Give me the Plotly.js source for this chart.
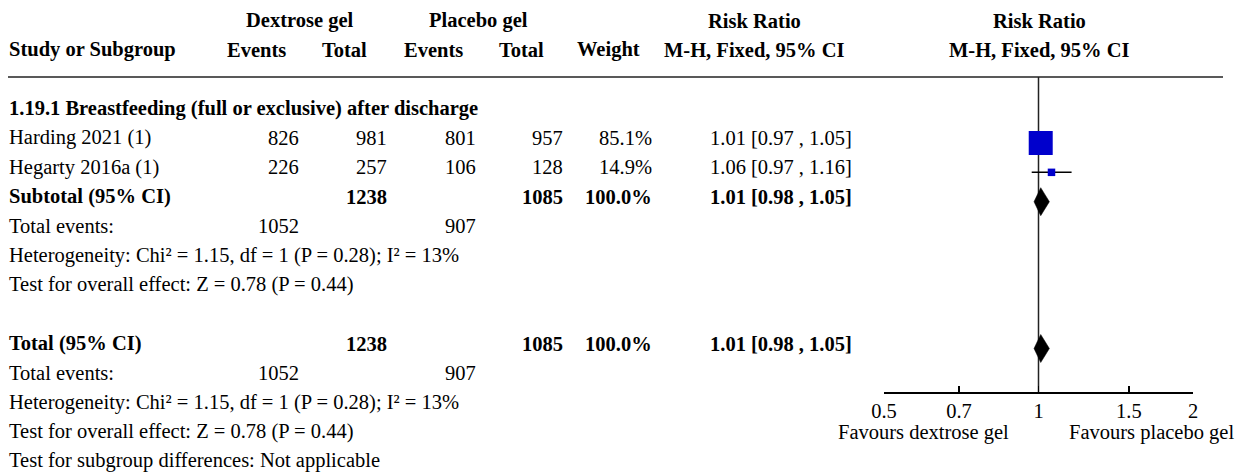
<!DOCTYPE html>
<html>
<head>
<meta charset="utf-8">
<script src="https://cdn.plot.ly/plotly-3.0.1.min.js"></script>
<style>html,body{margin:0;padding:0;background:#fff;}#chart{width:1242px;height:474px;}</style>
</head>
<body>
<div id="chart"></div>
<script>
// ---------------- DATA ----------------
const subgroupTitle = "1.19.1 Breastfeeding (full or exclusive) after discharge";
const studies = ["Harding 2021 (1)", "Hegarty 2016a (1)"];
const dexEvents = [826, 226];
const dexTotal = [981, 257];
const plaEvents = [801, 106];
const plaTotal = [957, 128];
const weights = [85.1, 14.9];
const rr = [1.01, 1.06];
const rrLow = [0.97, 0.97];
const rrHigh = [1.05, 1.16];

const subtotalLabel = "Subtotal (95% CI)";
const subDexTotal = 1238, subPlaTotal = 1085, subWeight = 100.0;
const subRR = 1.01, subLow = 0.98, subHigh = 1.05;
const subDexEvents = 1052, subPlaEvents = 907;
const subHet = "Heterogeneity: Chi² = 1.15, df = 1 (P = 0.28); I² = 13%";
const subTest = "Test for overall effect: Z = 0.78 (P = 0.44)";

const totalLabel = "Total (95% CI)";
const totDexTotal = 1238, totPlaTotal = 1085, totWeight = 100.0;
const totRR = 1.01, totLow = 0.98, totHigh = 1.05;
const totDexEvents = 1052, totPlaEvents = 907;
const totHet = "Heterogeneity: Chi² = 1.15, df = 1 (P = 0.28); I² = 13%";
const totTest = "Test for overall effect: Z = 0.78 (P = 0.44)";
const subgroupDiff = "Test for subgroup differences: Not applicable";

const tickVals = [0.5, 0.7, 1, 1.5, 2];
const tickLabels = ["0.5", "0.7", "1", "1.5", "2"];
const favLeft = "Favours dextrose gel";
const favRight = "Favours placebo gel";

// ---------------- LAYOUT HELPERS ----------------
const W = 1242, H = 474;
const FONT = "Liberation Serif, Times New Roman, serif";
const FS = 20.5;
const px = v => v / W;
const fmtCI = (e, l, h) => e.toFixed(2) + " [" + l.toFixed(2) + " , " + h.toFixed(2) + "]";

// column positions (pixels) and anchors
const COL = {
  study: {x: 8, a: "left"},
  dexEv: {x: 300, a: "right"},
  dexTot: {x: 388, a: "right"},
  plaEv: {x: 477, a: "right"},
  plaTot: {x: 564, a: "right"},
  weight: {x: 653, a: "right"},
  ci: {x: 853, a: "right"}
};

const ann = [];
function txt(text, col, row, bold, anchorOverride, xOverride) {
  ann.push({
    text: bold ? "<b>" + text + "</b>" : text,
    xref: "paper", yref: "y",
    x: px(xOverride !== undefined ? xOverride : col.x), y: row,
    xanchor: anchorOverride || col.a, yanchor: "middle",
    yshift: 5, showarrow: false, borderpad: 0,
    font: {family: FONT, size: FS, color: "#000"}
  });
}

// headers
txt("Dextrose gel", null, -1, true, "center", 300);
txt("Placebo gel", null, -1, true, "center", 478);
txt("Risk Ratio", null, -1, true, "center", 754);
txt("Risk Ratio", null, -1, true, "center", 1039);
txt("Study or Subgroup", COL.study, 0, true);
txt("Events", null, 0, true, "center", 256);
txt("Total", null, 0, true, "center", 344);
txt("Events", null, 0, true, "center", 433);
txt("Total", null, 0, true, "center", 521);
txt("Weight", null, 0, true, "right", 641);
txt("M-H, Fixed, 95% CI", null, 0, true, "center", 754);
txt("M-H, Fixed, 95% CI", null, 0, true, "center", 1039);

// subgroup
txt(subgroupTitle, COL.study, 2, true);
const studyRows = studies.map((s, i) => 3 + i);
studies.forEach((s, i) => {
  const r = studyRows[i];
  txt(s, COL.study, r, false);
  txt(String(dexEvents[i]), COL.dexEv, r, false);
  txt(String(dexTotal[i]), COL.dexTot, r, false);
  txt(String(plaEvents[i]), COL.plaEv, r, false);
  txt(String(plaTotal[i]), COL.plaTot, r, false);
  txt(weights[i].toFixed(1) + "%", COL.weight, r, false);
  txt(fmtCI(rr[i], rrLow[i], rrHigh[i]), COL.ci, r, false);
});
const subRow = 5;
txt(subtotalLabel, COL.study, subRow, true);
txt(String(subDexTotal), COL.dexTot, subRow, true);
txt(String(subPlaTotal), COL.plaTot, subRow, true);
txt(subWeight.toFixed(1) + "%", COL.weight, subRow, true);
txt(fmtCI(subRR, subLow, subHigh), COL.ci, subRow, true);
txt("Total events:", COL.study, 6, false);
txt(String(subDexEvents), COL.dexEv, 6, false);
txt(String(subPlaEvents), COL.plaEv, 6, false);
txt(subHet, COL.study, 7, false);
txt(subTest, COL.study, 8, false);

const totRow = 10;
txt(totalLabel, COL.study, totRow, true);
txt(String(totDexTotal), COL.dexTot, totRow, true);
txt(String(totPlaTotal), COL.plaTot, totRow, true);
txt(totWeight.toFixed(1) + "%", COL.weight, totRow, true);
txt(fmtCI(totRR, totLow, totHigh), COL.ci, totRow, true);
txt("Total events:", COL.study, 11, false);
txt(String(totDexEvents), COL.dexEv, 11, false);
txt(String(totPlaEvents), COL.plaEv, 11, false);
txt(totHet, COL.study, 12, false);
txt(totTest, COL.study, 13, false);
txt(subgroupDiff, COL.study, 14, false);

// favours labels (below axis)
const axisY = 1 - 392 / H;
ann.push({text: favLeft, xref: "paper", yref: "paper", x: px(923), y: 1 - 432 / H,
  xanchor: "center", yanchor: "middle", showarrow: false, borderpad: 0,
  font: {family: FONT, size: FS, color: "#000"}});
ann.push({text: favRight, xref: "paper", yref: "paper", x: px(1151), y: 1 - 432 / H,
  xanchor: "center", yanchor: "middle", showarrow: false, borderpad: 0,
  font: {family: FONT, size: FS, color: "#000"}});

// ---------------- TRACES ----------------
const traces = [];
// CI lines
studies.forEach((s, i) => {
  traces.push({type: "scatter", mode: "lines", x: [rrLow[i], rrHigh[i]], y: [studyRows[i], studyRows[i]],
    line: {color: "#000", width: 1.5}, hoverinfo: "skip"});
});
// squares
traces.push({type: "scatter", mode: "markers", x: rr, y: studyRows,
  marker: {symbol: "square", color: "#0000cc", opacity: 1,
    size: weights.map(w => 4 + 0.235 * w), line: {width: 0}},
  hoverinfo: "skip"});
// diamonds
const dh = 0.477;
function diamond(est, lo, hi, r) {
  traces.push({type: "scatter", mode: "lines", fill: "toself", fillcolor: "#000",
    x: [lo, est, hi, est, lo], y: [r, r - dh, r, r + dh, r],
    line: {color: "#000", width: 0.5}, hoverinfo: "skip"});
}
diamond(subRR, subLow, subHigh, subRow);
diamond(totRR, totLow, totHigh, totRow);

// ---------------- LAYOUT ----------------
const rowPx0 = 54.9, rowStep = 29.36;
const yTop = -rowPx0 / rowStep, yBot = (H - rowPx0) / rowStep;
const lineY = 1 - 77 / H;

const layout = {
  width: W, height: H, autosize: false,
  margin: {l: 0, r: 0, t: 0, b: 0, pad: 0},
  paper_bgcolor: "#fff", plot_bgcolor: "rgba(0,0,0,0)",
  showlegend: false, hovermode: false,
  font: {family: FONT, size: FS, color: "#000"},
  xaxis: {
    type: "log", range: [Math.log10(0.5), Math.log10(2)],
    domain: [884 / W, 1193 / W],
    anchor: "free", position: axisY,
    showline: true, linecolor: "#000", linewidth: 1.5,
    ticks: "inside", ticklen: 6, tickwidth: 1.5, tickcolor: "#000",
    tickvals: tickVals, ticktext: tickLabels,
    tickfont: {family: FONT, size: FS, color: "#000"},
    showgrid: false, zeroline: false, fixedrange: true
  },
  yaxis: {
    range: [yBot, yTop], domain: [0, 1], visible: false,
    showgrid: false, zeroline: false, fixedrange: true
  },
  shapes: [
    {type: "line", xref: "paper", yref: "paper", x0: px(8), x1: px(1223), y0: lineY, y1: lineY,
      line: {color: "#222", width: 1.5}},
    {type: "line", xref: "x", yref: "paper", x0: 1, x1: 1, y0: lineY, y1: axisY,
      line: {color: "#222", width: 1.5}, layer: "below"}
  ],
  annotations: ann
};

Plotly.newPlot("chart", traces, layout, {staticPlot: true, displayModeBar: false});
</script>
</body>
</html>
